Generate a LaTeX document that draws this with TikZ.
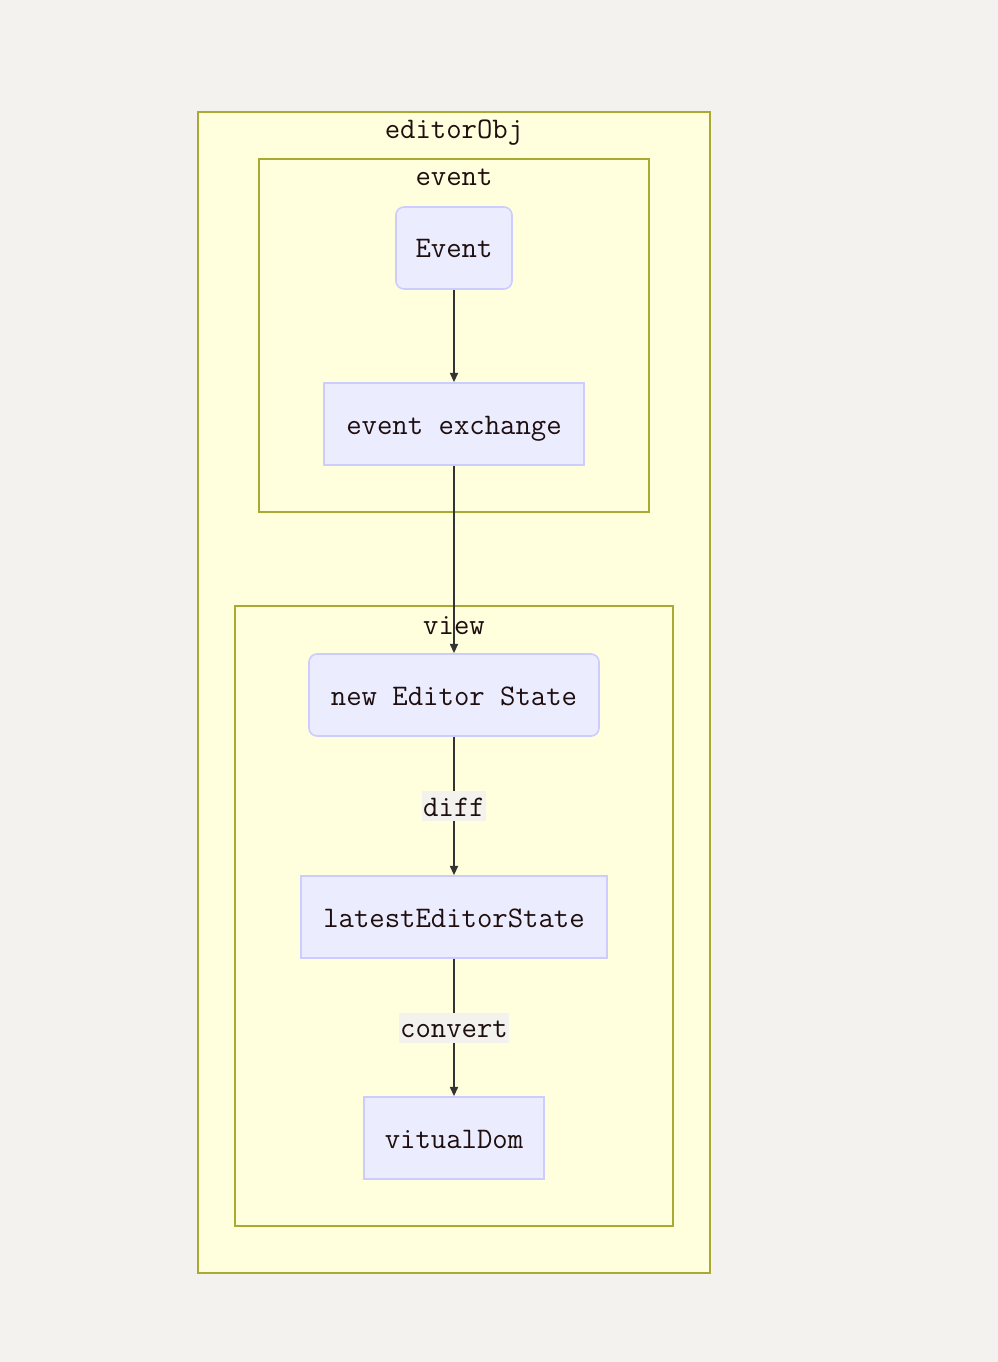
\documentclass[tikz,border=0pt]{standalone}
\usepackage{fontspec}
\usetikzlibrary{arrows.meta}
\definecolor{pagebg}{HTML}{F3F2EE}
\definecolor{clfill}{HTML}{FFFFDE}
\definecolor{clline}{HTML}{AAAA33}
\definecolor{ndfill}{HTML}{ECECFF}
\definecolor{ndline}{HTML}{CCCCFF}
\definecolor{txt}{HTML}{1E0E0E}
\definecolor{edge}{HTML}{333333}
\tikzset{
  myfont/.style={font=\ttfamily\fontsize{22.4}{25}\selectfont, text height=15pt, text depth=0pt},
  cluster/.style={draw=clline, fill=clfill, line width=1.2pt},
  cltitle/.style={text=txt, myfont, inner sep=0pt, anchor=center},
  nd/.style={draw=ndline, fill=ndfill, line width=1.2pt, text=txt, myfont, minimum height=61.5pt, inner sep=0pt},
  rnd/.style={nd, rounded corners=6pt},
  elabel/.style={fill=pagebg, text=txt, myfont, inner xsep=1pt, inner ysep=3.75pt},
  arr/.style={draw=edge, line width=1.4pt, -{Triangle[length=7pt,width=6pt]}},
}
\begin{document}
\begin{tikzpicture}[x=0.75pt,y=-0.75pt]
\useasboundingbox (0,0) rectangle (998,1362);
\fill[pagebg] (0,0) rectangle (998,1362);
% clusters
\draw[cluster] (198,112) rectangle (710,1273);
\node[cltitle] (tObj) at (454,129) {editorObj};
\draw[cluster] (259,159) rectangle (649,512);
\node[cltitle] (tEvt) at (454,176) {event};
\draw[cluster] (235,606) rectangle (673,1226);
\node[cltitle] (tView) at (454,624) {view};
% nodes
\node[rnd, minimum width=87pt] (ev) at (454,248) {Event};
\node[nd, minimum width=195pt] (ex) at (454,424) {event exchange};
\node[rnd, minimum width=217.5pt] (ns) at (454,695) {new Editor State};
\node[nd, minimum width=229.5pt] (ls) at (454,917) {latestEditorState};
\node[nd, minimum width=135pt] (vd) at (454,1138) {vitualDom};
% edges
\draw[arr] (ev) -- (ex);
\draw[arr] (ex) -- (ns);
\draw[arr] (ns) -- node[elabel] (l1) {diff} (ls);
\draw[arr] (ls) -- node[elabel] (l2) {convert} (vd);
\end{tikzpicture}
\end{document}
